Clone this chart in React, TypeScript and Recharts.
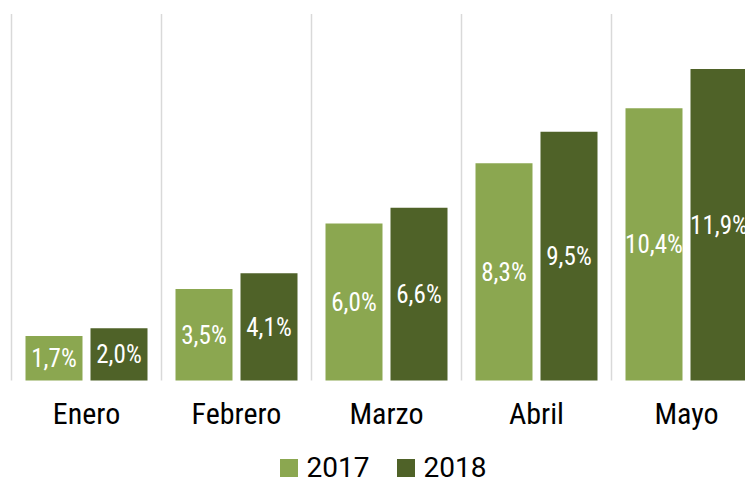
import React from 'react';
import { BarChart, Bar, XAxis, YAxis, CartesianGrid, LabelList } from 'recharts';

const months = ['Enero', 'Febrero', 'Marzo', 'Abril', 'Mayo'];
const values2017 = [1.7, 3.5, 6.0, 8.3, 10.4];
const values2018 = [2.0, 4.1, 6.6, 9.5, 11.9];
const seriesNames = ['2017', '2018'];
const colors = ['#8BA750', '#4F6228'];

const data = months.map((m, i) => ({ month: m, s2017: values2017[i], s2018: values2018[i] }));

const FONT = "'Roboto Condensed', Roboto, sans-serif";

const fmt = (v: any) => Number(v).toFixed(1).replace('.', ',') + '%';

export default function App() {
  return (
    <div style={{ position: 'relative', marginLeft: -8, marginTop: -8, width: 753, height: 483, overflow: 'hidden', background: '#fff' }}>
      <div style={{ fontFamily: FONT, fontStretch: 'condensed' } as any}>
        <BarChart
          width={770}
          height={483}
          data={data}
          margin={{ top: 14, right: 8.5, left: 11.5, bottom: 40 }}
          barCategoryGap={14}
          barGap={8}
        >
          <CartesianGrid
            horizontal={false}
            stroke="#d9d9d9"
            strokeWidth={1.5}
            verticalCoordinatesGenerator={({ offset }: any) =>
              months.map((_, i) => offset.left + (i * offset.width) / months.length).concat([offset.left + offset.width])
            }
          />
          <XAxis
            dataKey="month"
            axisLine={false}
            tickLine={false}
            tickMargin={16.5}
            height={62.5}
            interval={0}
            tick={{ fill: '#000', fontSize: 30, fontFamily: FONT }}
          />
          <YAxis hide domain={[0, 14]} />
          <Bar dataKey="s2017" name="2017" fill={colors[0]} isAnimationActive={false}>
            <LabelList dataKey="s2017" position="center" formatter={fmt} fill="#fff" fontSize={25} fontFamily={FONT} />
          </Bar>
          <Bar dataKey="s2018" name="2018" fill={colors[1]} isAnimationActive={false}>
            <LabelList dataKey="s2018" position="center" formatter={fmt} fill="#fff" fontSize={25} fontFamily={FONT} />
          </Bar>
        </BarChart>
      </div>
      <div
        style={{
          position: 'absolute',
          left: 8,
          width: 750,
          top: 450,
          height: 35,
          display: 'flex',
          justifyContent: 'center',
          alignItems: 'center',
          fontFamily: 'Roboto, sans-serif',
          fontStretch: 'normal',
          fontSize: 28,
          lineHeight: '33px',
          color: '#000',
        } as any}
      >
        {seriesNames.map((n, i) => (
          <div key={n} style={{ display: 'flex', alignItems: 'center', marginLeft: i === 0 ? 0 : 27 }}>
            <div style={{ width: 18, height: 18, background: colors[i], marginRight: 9 }} />
            <span>{n}</span>
          </div>
        ))}
      </div>
    </div>
  );
}
